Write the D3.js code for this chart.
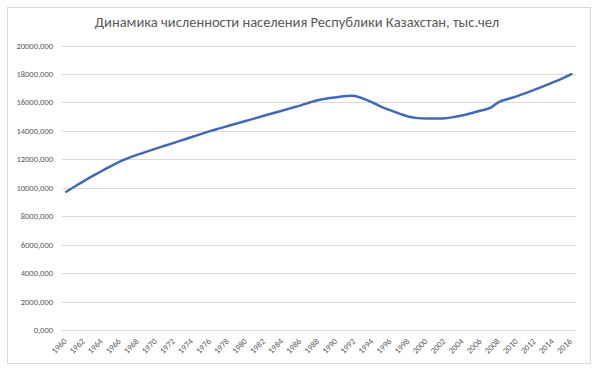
<!DOCTYPE html>
<html><head><meta charset="utf-8">
<script src="https://cdn.jsdelivr.net/npm/d3@7"></script>
<style>body{margin:0;background:#fff}svg{display:block}</style>
</head><body>
<svg id="c" width="600" height="373"></svg>
<script>
const title = "Динамика численности населения Республики Казахстан, тыс.чел";
const years = d3.range(1960, 2017);
const population = [
  9725, 10110, 10490, 10850, 11200, 11540, 11860, 12120, 12350, 12560,
  12770, 12970, 13180, 13380, 13590, 13790, 14000, 14180, 14360, 14540,
  14720, 14900, 15080, 15260, 15440, 15620, 15800, 16000, 16180, 16290,
  16370, 16450, 16460, 16250, 15980, 15680, 15440, 15200, 15000, 14900,
  14870, 14870, 14890, 14980, 15100, 15260, 15440, 15620, 16050, 16250,
  16450, 16680, 16920, 17170, 17430, 17700, 17990
];
const yTicks = [0, 2000, 4000, 6000, 8000, 10000, 12000, 14000, 16000, 18000, 20000];

const svg = d3.select("#c");
const font = "Carlito, Lato, 'Open Sans', sans-serif";

svg.append("rect").attr("x", 7.5).attr("y", 7.5).attr("width", 583).attr("height", 356)
  .attr("fill", "#fff").attr("stroke", "#d9d9d9");

const x = d3.scaleBand().domain(years).range([61.7, 576]).padding(0);
const y = d3.scaleLinear().domain([0, 20000]).range([330, 45.6]);
const cx = d => x(d) + x.bandwidth() / 2;

// gridlines
svg.append("g").selectAll("line").data(yTicks).join("line")
  .attr("x1", 61.7).attr("x2", 576)
  .attr("y1", d => Math.round(y(d)) + 0.5).attr("y2", d => Math.round(y(d)) + 0.5)
  .attr("stroke", "#d9d9d9").attr("stroke-width", 1);

// y labels
const fmt = v => d3.format(".3f")(v).replace(".", ",");
svg.append("g").selectAll("text").data(yTicks).join("text")
  .attr("x", 53).attr("y", d => y(d)).attr("dy", "0.35em")
  .attr("text-anchor", "end").attr("font-family", font).attr("font-size", 8.5)
  .attr("fill", "#595959").text(fmt);

// x labels
svg.append("g").selectAll("text").data(years.filter(d => d % 2 === 0)).join("text")
  .attr("transform", d => `translate(${cx(d) + 1},${342}) rotate(-45)`)
  .attr("text-anchor", "end").attr("font-family", font).attr("font-size", 8.5)
  .attr("fill", "#595959").text(d => d);

// line
const line = d3.line().x((d, i) => cx(years[i])).y(d => y(d)).curve(d3.curveCatmullRom.alpha(0.5));
svg.append("path").datum(population).attr("d", line)
  .attr("fill", "none").attr("stroke", "#4169B5").attr("stroke-width", 2.5)
  .attr("stroke-linejoin", "round").attr("stroke-linecap", "round");

// title
svg.append("text").attr("x", 297).attr("y", 27).attr("text-anchor", "middle")
  .attr("font-family", font).attr("font-size", 14.5).attr("fill", "#595959").text(title);
</script>
</body></html>
